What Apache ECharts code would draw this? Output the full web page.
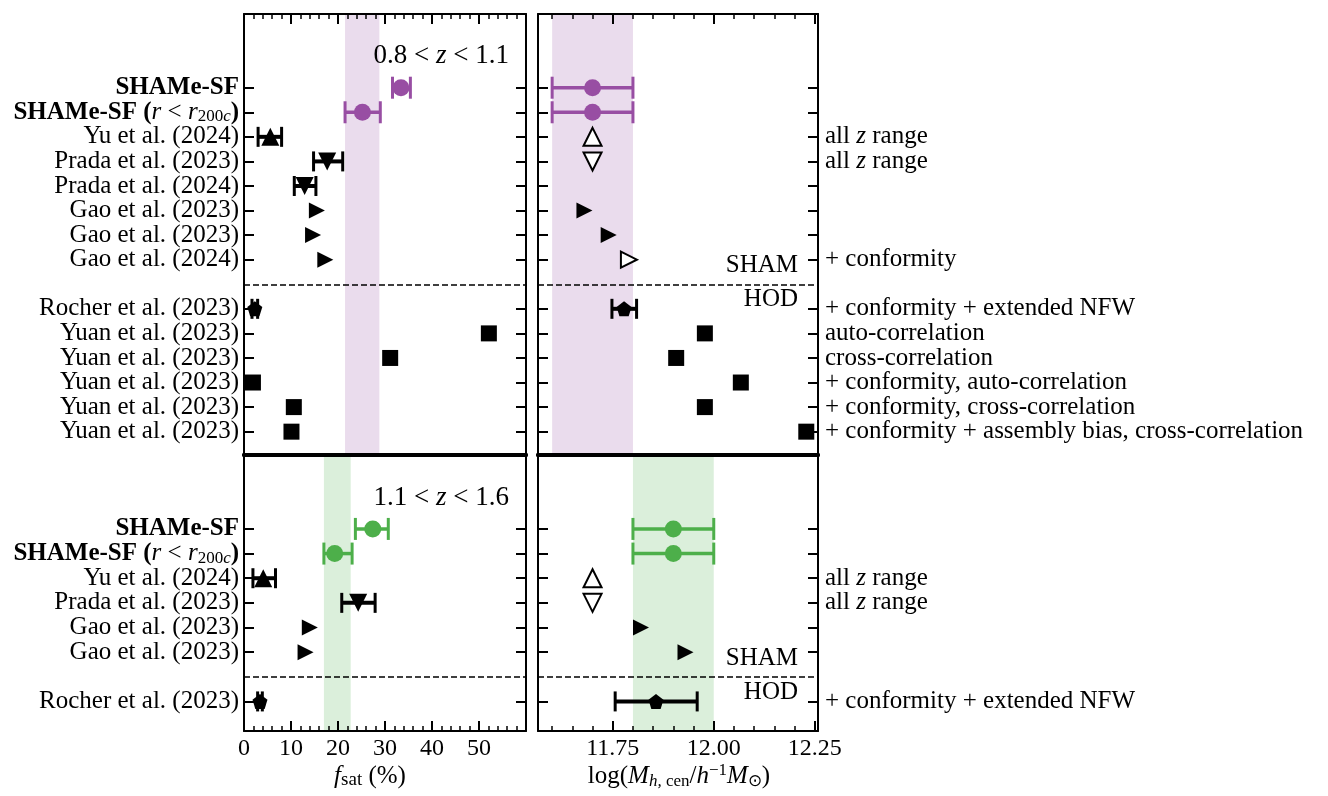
<!DOCTYPE html>
<html><head><meta charset="utf-8">
<script src="https://cdn.jsdelivr.net/npm/echarts@6/dist/echarts.min.js"></script>
<style>html,body{margin:0;padding:0;background:#fff}#c{width:1328px;height:796px}</style>
</head><body><div id="c"></div>
<script>
// ---------------- data ----------------
const topLabels = ['SHAMe-SF','SHAMe-SF (r < r200c)','Yu et al. (2024)','Prada et al. (2023)','Prada et al. (2024)','Gao et al. (2023)','Gao et al. (2023)','Gao et al. (2024)','Rocher et al. (2023)','Yuan et al. (2023)','Yuan et al. (2023)','Yuan et al. (2023)','Yuan et al. (2023)','Yuan et al. (2023)'];
const topRows = [0,1,2,3,4,5,6,7,9,10,11,12,13,14];
const topMarkers = ['circle','circle','up','down','down','right','right','right','pentagon','square','square','square','square','square'];
const topFsat   = [33.4,25.2,5.6,17.7,12.9,15.5,14.7,17.3,2.3,52.1,31.1,1.9,10.6,10.1];
const topFsatLo = [31.6,21.5,3.0,14.8,10.7,null,null,null,1.7,null,null,null,null,null];
const topFsatHi = [35.4,29.0,8.0,21.0,15.3,null,null,null,2.9,null,null,null,null,null];
const topMh   = [11.70,11.70,11.70,11.70,null,11.68,11.74,11.79,11.778,11.978,11.907,12.067,11.978,12.229];
const topMhLo = [11.60,11.60,null,null,null,null,null,null,11.748,null,null,null,null,null];
const topMhHi = [11.80,11.80,null,null,null,null,null,null,11.809,null,null,null,null,null];
const topMhOpen = [0,0,1,1,0,0,0,1,0,0,0,0,0,0];
const topNotes = ['','','all z range','all z range','','','','+ conformity','+ conformity + extended NFW','auto-correlation','cross-correlation','+ conformity, auto-correlation','+ conformity, cross-correlation','+ conformity + assembly bias, cross-correlation'];
const topBandFsat = [21.5, 28.8];
const topBandMh = [11.60, 11.80];
const topDashRow = 8;

const botLabels = ['SHAMe-SF','SHAMe-SF (r < r200c)','Yu et al. (2024)','Prada et al. (2023)','Gao et al. (2023)','Gao et al. (2023)','Rocher et al. (2023)'];
const botRows = [0,1,2,3,4,5,7];
const botMarkers = ['circle','circle','up','down','right','right','pentagon'];
const botFsat   = [27.4,19.3,4.1,24.3,14.0,13.1,3.4];
const botFsatLo = [23.7,17.0,1.9,20.8,null,null,2.9];
const botFsatHi = [30.7,23.0,6.7,27.9,null,null,3.9];
const botMh   = [11.90,11.90,11.70,11.70,11.82,11.93,11.857];
const botMhLo = [11.80,11.80,null,null,null,null,11.756];
const botMhHi = [12.00,12.00,null,null,null,null,11.959];
const botMhOpen = [0,0,1,1,0,0,0];
const botNotes = ['','','all z range','all z range','','','+ conformity + extended NFW'];
const botBandFsat = [17.0, 22.7];
const botBandMh = [11.80, 12.00];
const botDashRow = 6;

const fsatTicks = [0,10,20,30,40,50];
const mhTicks = [11.75,12.00,12.25];
const mhMinorTicks = [11.60,11.65,11.70,11.80,11.85,11.90,11.95,12.05,12.10,12.15,12.20];

// ---------------- style ----------------
const F = "'Liberation Serif','Times New Roman',serif";
const PURPLE = '#984ea3', GREEN = '#4daf4a';
const PURPLE_BAND = '#eadced', GREEN_BAND = '#dbefdb';
const FS = 25;

function rich(colorKey, lh, slh){
  const c = {}; c[colorKey] = '#000';
  const base = Object.assign({fontFamily:F, fontSize:FS, lineHeight:lh, verticalAlign:'middle'}, c);
  const small = Object.assign({fontFamily:F, fontSize:17, lineHeight:slh}, c);
  return {
    n: Object.assign({}, base),
    b: Object.assign({}, base, {fontWeight:'bold'}),
    i: Object.assign({}, base, {fontStyle:'italic'}),
    big: Object.assign({}, base, {fontSize:27}),
    bigi: Object.assign({}, base, {fontSize:27, fontStyle:'italic'}),
    sub: Object.assign({}, small, {verticalAlign:'bottom'}),
    sub2: Object.assign({}, small, {verticalAlign:'bottom', fontSize:19}),
    subi: Object.assign({}, small, {verticalAlign:'bottom', fontStyle:'italic'}),
    sup: Object.assign({}, small, {verticalAlign:'top'})
  };
}
const RICH = rich('color', 26, 15);
const GRICH = rich('fill', 28, 17);

function labelMarkup(s){
  if (s === 'SHAMe-SF') return '{b|SHAMe-SF}';
  if (s === 'SHAMe-SF (r < r200c)') return '{b|SHAMe-SF (}{i|r}{n| < }{i|r}{sub|200}{subi|c}{b|)}';
  return '{n|' + s + '}';
}
function noteMarkup(s){
  if (!s) return '';
  if (s.indexOf(' z ') >= 0) { const p = s.split(' z '); return '{n|' + p[0] + ' }{i|z}{n| ' + p[1] + '}'; }
  return '{n|' + s + '}';
}

const SYM = {
  circle: 'circle',
  square: 'rect',
  up: 'path://M5,0L10,10L0,10Z',
  down: 'path://M0,0L10,0L5,10Z',
  right: 'path://M0,0L10,5L0,10Z',
  pentagon: 'path://M50,0L97.55,34.55L79.39,90.45L20.61,90.45L2.45,34.55Z'
};
const SIZE = {circle:17, square:16, up:18, down:18, right:16, pentagon:15};

// ---------------- layout ----------------
const TL = {left:244, top:14, width:282, height:441};
const TR = {left:538, top:14, width:280, height:441};
const BL = {left:244, top:455, width:282, height:276};
const BR = {left:538, top:455, width:280, height:276};
// grids 0-3 panels; 4-7 overlay clones (minor ticks / alternating labels)
const G = [TL, TR, BL, BR, TL, TR, BL, BR];
const FR = [0, 60];
const MR = [11.565, 12.258];
const TOPY = [-3, 14.95];
const BOTY = [-3, 8.2];

function thickX(grid, pos, r){
  return {type:'value', gridIndex:grid, position:pos, min:r[0], max:r[1], z:10,
    axisLine:{show:true, onZero:false, lineStyle:{color:'#000', width:4}}, axisTick:{show:false}, axisLabel:{show:false}, splitLine:{show:false}};
}
function hiddenX(grid, r){
  return {type:'value', gridIndex:grid, show:false, min:r[0], max:r[1], axisLine:{onZero:false}};
}
function fsatX(grid, pos, labels){
  return {type:'value', gridIndex:grid, position:pos, min:FR[0], max:FR[1], interval:10, z:10,
    axisLine:{show:true, onZero:false, lineStyle:{color:'#000', width:2}},
    axisTick:{show:true, inside:true, length:10, lineStyle:{color:'#000', width:2}},
    minorTick:{show:true, splitNumber:5, length:5, lineStyle:{color:'#000', width:1.5}},
    axisLabel:{show:labels, customValues:fsatTicks, showMinLabel:true, showMaxLabel:true, fontFamily:F, fontSize:24, color:'#000', margin:6},
    splitLine:{show:false}, minorSplitLine:{show:false}};
}
function mhX(grid, pos, labels){
  return {type:'value', gridIndex:grid, position:pos, min:MR[0], max:MR[1], z:10,
    axisLine:{show:true, onZero:false, lineStyle:{color:'#000', width:2}},
    axisTick:{show:true, inside:true, length:10, customValues:mhTicks, lineStyle:{color:'#000', width:2}},
    axisLabel:{show:labels, customValues:mhTicks, showMinLabel:true, showMaxLabel:true, fontFamily:F, fontSize:24, color:'#000', margin:6,
      formatter:v => v.toFixed(2)},
    splitLine:{show:false}};
}
function mhMinorX(grid, pos){
  return {type:'value', gridIndex:grid, position:pos, min:MR[0], max:MR[1], z:11,
    axisLine:{show:false, onZero:false}, axisLabel:{show:false}, splitLine:{show:false},
    axisTick:{show:true, inside:true, length:5, customValues:mhMinorTicks, lineStyle:{color:'#000', width:1.5}}};
}
function yFrame(grid, pos, yr, rows){
  return {type:'value', gridIndex:grid, position:pos, inverse:true, min:yr[0], max:yr[1], z:10,
    axisLine:{show:true, onZero:false, lineStyle:{color:'#000', width:2}},
    axisTick:{show:true, inside:true, length:10, customValues:rows, lineStyle:{color:'#000', width:2}},
    splitLine:{show:false}, axisLabel:{show:false}};
}
function yLabels(grid, pos, yr, labelRows, fn){
  return {type:'value', gridIndex:grid, position:pos, inverse:true, min:yr[0], max:yr[1], z:10,
    axisLine:{show:false, onZero:false}, axisTick:{show:false}, splitLine:{show:false},
    axisLabel:{show:true, customValues:labelRows, showMinLabel:true, showMaxLabel:true, hideOverlap:false,
      margin: pos==='left'?5:7, rich:RICH, formatter:fn}};
}

function mapFn(rows, arr, fn){
  return v => { const i = rows.indexOf(Math.round(v)); return i < 0 ? '' : fn(arr[i]); };
}
const even = rows => rows.filter(r => r % 2 === 0);
const odd = rows => rows.filter(r => r % 2 === 1);

// ---------------- series ----------------
function panelSeries(xIdx, yIdx, xs, los, his, rows, markers, openFlags, color, band, bandColor, dashRow){
  const out = [];
  out.push({type:'scatter', xAxisIndex:xIdx, yAxisIndex:yIdx, data:[], z:1, silent:true,
    markArea:{silent:true, itemStyle:{color:bandColor, opacity:1}, data:[[{xAxis:band[0]},{xAxis:band[1]}]]},
    markLine:{silent:true, symbol:['none','none'], label:{show:false},
      lineStyle:{color:'#000', width:1.5, type:[6,3]}, data:[{yAxis:dashRow}]}
  });
  const err = [];
  for (let i = 0; i < xs.length; i++) {
    if (los[i] != null && his[i] != null) err.push([los[i], his[i], rows[i], i < 2 ? 1 : 0]);
  }
  out.push({type:'custom', xAxisIndex:xIdx, yAxisIndex:yIdx, z:4, silent:true,
    encode:{x:[0,1], y:2}, data:err,
    renderItem:function(params, api){
      const colored = api.value(3) === 1;
      const c = colored ? color : '#000';
      const h = colored ? 11 : 10;
      const a = api.coord([api.value(0), api.value(2)]);
      const b = api.coord([api.value(1), api.value(2)]);
      return {type:'group', children:[
        {type:'line', shape:{x1:a[0], y1:a[1], x2:b[0], y2:b[1]}, style:{stroke:c, lineWidth:colored ? 3.5 : 4}},
        {type:'line', shape:{x1:a[0], y1:a[1]-h, x2:a[0], y2:a[1]+h}, style:{stroke:c, lineWidth:3}},
        {type:'line', shape:{x1:b[0], y1:b[1]-h, x2:b[0], y2:b[1]+h}, style:{stroke:c, lineWidth:3}}
      ]};
    }
  });
  const pts = [];
  for (let i = 0; i < xs.length; i++) {
    if (xs[i] == null) continue;
    const m = markers[i];
    const open = openFlags && openFlags[i];
    const col = i < 2 ? color : '#000';
    pts.push({value:[xs[i], rows[i]], symbol:SYM[m], symbolSize: SIZE[m],
      itemStyle: open ? {color:'#fff', borderColor:'#000', borderWidth:2, opacity:1} : {color:col, borderWidth:0, opacity:1}});
  }
  out.push({type:'scatter', xAxisIndex:xIdx, yAxisIndex:yIdx, z:5, silent:true, itemStyle:{opacity:1}, data:pts});
  return out;
}

const series = [].concat(
  panelSeries(0, 0, topFsat, topFsatLo, topFsatHi, topRows, topMarkers, null, PURPLE, topBandFsat, PURPLE_BAND, topDashRow),
  panelSeries(2, 2, topMh, topMhLo, topMhHi, topRows, topMarkers, topMhOpen, PURPLE, topBandMh, PURPLE_BAND, topDashRow),
  panelSeries(4, 4, botFsat, botFsatLo, botFsatHi, botRows, botMarkers, null, GREEN, botBandFsat, GREEN_BAND, botDashRow),
  panelSeries(6, 6, botMh, botMhLo, botMhHi, botRows, botMarkers, botMhOpen, GREEN, botBandMh, GREEN_BAND, botDashRow)
);

const topNoteRows = topRows.filter((r,i)=>topNotes[i]);
const botNoteRows = botRows.filter((r,i)=>botNotes[i]);
const topLabFn = mapFn(topRows, topLabels, labelMarkup);
const botLabFn = mapFn(botRows, botLabels, labelMarkup);
const topNoteFn = mapFn(topRows, topNotes, noteMarkup);
const botNoteFn = mapFn(botRows, botNotes, noteMarkup);

function gtext(x, y, markup, align){
  return {type:'text', x:x, y:y, z:20, silent:true,
    style:{text:markup, rich:GRICH, align:align||'right', verticalAlign:'middle', fontFamily:F, fontSize:FS, fill:'#000'}};
}

const option = {
  animation:false,
  backgroundColor:'#fff',
  grid: G.map(g => Object.assign({containLabel:false}, g)),
  xAxis: [
    fsatX(0,'top',false), thickX(0,'bottom',FR),
    mhX(1,'top',false), thickX(1,'bottom',MR),
    fsatX(2,'bottom',true), thickX(2,'top',FR),
    mhX(3,'bottom',true), thickX(3,'top',MR),
    hiddenX(4,FR),
    mhMinorX(5,'top'),
    hiddenX(6,FR),
    mhMinorX(7,'bottom')
  ],
  yAxis: [
    Object.assign(yFrame(0,'left',TOPY,topRows), {axisLabel:yLabels(0,'left',TOPY,even(topRows),topLabFn).axisLabel}),
    yFrame(0,'right',TOPY,topRows),
    yFrame(1,'left',TOPY,topRows),
    Object.assign(yFrame(1,'right',TOPY,topRows), {axisLabel:yLabels(1,'right',TOPY,even(topNoteRows),topNoteFn).axisLabel}),
    Object.assign(yFrame(2,'left',BOTY,botRows), {axisLabel:yLabels(2,'left',BOTY,even(botRows),botLabFn).axisLabel}),
    yFrame(2,'right',BOTY,botRows),
    yFrame(3,'left',BOTY,botRows),
    Object.assign(yFrame(3,'right',BOTY,botRows), {axisLabel:yLabels(3,'right',BOTY,even(botNoteRows),botNoteFn).axisLabel}),
    yLabels(4,'left',TOPY,odd(topRows),topLabFn),
    yLabels(5,'right',TOPY,odd(topNoteRows),topNoteFn),
    yLabels(6,'left',BOTY,odd(botRows),botLabFn),
    yLabels(7,'right',BOTY,odd(botNoteRows),botNoteFn)
  ],
  series: series,
  graphic: [
    gtext(509, 56, '{big|0.8 < }{bigi|z}{big| < 1.1}'),
    gtext(509, 498, '{big|1.1 < }{bigi|z}{big| < 1.6}'),
    gtext(798, 265, '{n|SHAM}'),
    gtext(798, 299, '{n|HOD}'),
    gtext(798, 658, '{n|SHAM}'),
    gtext(798, 692, '{n|HOD}'),
    gtext(370, 776, '{i|f}{sub2|sat}{n| (%)}', 'center'),
    gtext(679, 776, '{n|log(}{i|M}{subi|h,}{sub| cen}{n|/}{i|h}{sup|−1}{i|M}{sub|⊙}{n|)}', 'center')
  ]
};

const chart = echarts.init(document.getElementById('c'), null, {renderer:'canvas'});
chart.setOption(option);
</script></body></html>
